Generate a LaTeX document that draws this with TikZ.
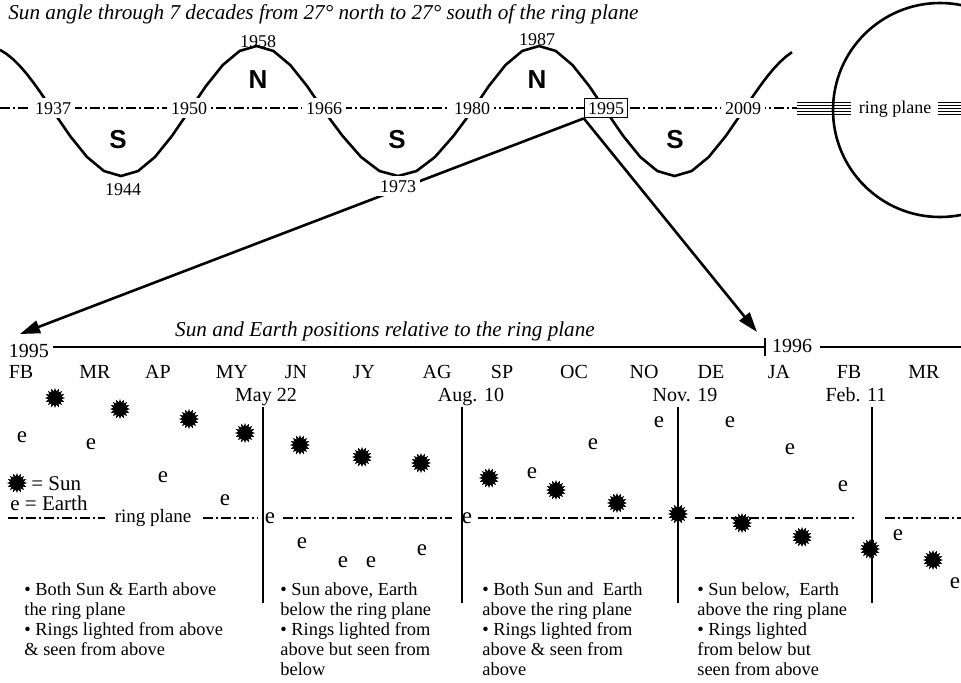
\documentclass[tikz,border=0pt]{standalone}
\usepackage{fontspec}
\setmainfont{Liberation Serif}
\newfontfamily\capsfont{Liberation Sans}
\usetikzlibrary{arrows.meta,shapes.geometric}

\begin{document}
\begin{tikzpicture}[x=0.5pt,y=-0.5pt,
		thickline/.style={line width=1.3pt},
		ringline/.style={line width=1pt, dash pattern=on 5pt off 1.5pt on 1pt off 1.5pt},
		yearlab/.style={anchor=base, font=\fontsize{9}{10}\selectfont, fill=white, inner sep=1.8pt},
		hemi/.style={font=\capsfont\bfseries\fontsize{13}{13}\selectfont},
		month/.style={anchor=base, font=\fontsize{10}{11}\selectfont, inner sep=0pt},
		sunmark/.style={star, star points=16, star point ratio=1.5, fill=black, inner sep=0pt, minimum size=10pt},
		earthmark/.style={font=\fontsize{11.5}{11.5}\selectfont, inner sep=0pt},
		notes/.style={anchor=north west, align=left, inner sep=0pt, font=\fontsize{9.2}{10}\selectfont},
		bigarrow/.style={line width=1.3pt, -{Triangle[length=10pt,width=6.5pt]}}]
		\useasboundingbox (0,0) rectangle (961,682);

		% --- TOP: seven decades of sun angle ---
		\node[anchor=base west, inner sep=0pt, font=\itshape\fontsize{10.6}{12}\selectfont] (title) at (8,19)
			{Sun angle through 7 decades from 27° north to 27° south of the ring plane};

		\begin{scope}
			\clip (0,0) rectangle (961,682);
			\draw[thickline] (940,110) circle [radius=107];
		\end{scope}

		\draw[ringline] (0,108) -- (797,108);
		\foreach \ly in {102,105,108,111,114} {
			\draw[line width=0.4pt] (797,\ly) -- (851,\ly);
			\draw[line width=0.4pt] (938,\ly) -- (961,\ly);
		}

		% half waves: start, end, up/down, part drawn
		\foreach \a/\b/\s/\from/\to in {-83/53/-1/0.61/1, 53/189/1/0/1, 189/324/-1/0/1,
				324/472/1/0/1, 472/606/-1/0/1, 606/743/1/0/1, 743/879/-1/0/0.36}
			\draw[thickline] plot[domain=\from:\to, samples=9] ({\a+(\b-\a)*\x}, {111+\s*65*sin(180*\x)});

		\node[hemi] (s1) at (118,140) {S};
		\node[hemi] (n1) at (258,80) {N};
		\node[hemi] (s2) at (397,140) {S};
		\node[hemi] (n2) at (537,80) {N};
		\node[hemi] (s3) at (675,140) {S};

		\node[yearlab] (y1937) at (53,114) {1937};
		\node[yearlab] (y1950) at (189,114) {1950};
		\node[yearlab] (y1966) at (324,114) {1966};
		\node[yearlab] (y1980) at (472,114) {1980};
		\node[yearlab, draw, line width=0.6pt] (y1995) at (606,114) {1995};
		\node[yearlab] (y2009) at (743,114) {2009};
		\node[yearlab] (rp) at (895,113) {ring plane};
		\node[yearlab, fill=none] (y1958) at (258,47) {1958};
		\node[yearlab, fill=none] (y1987) at (537,45) {1987};
		\node[yearlab] (y1944) at (123,195) {1944};

		\coordinate (tipA) at (20,334);
		\coordinate (tipB) at (757,332);
		\draw[bigarrow] (y1995.south west) -- (tipA);
		\draw[bigarrow] (y1995.south west) -- (tipB);
		\node[yearlab] (y1973) at (398,192) {1973};

		% --- BOTTOM: sun and earth, 1995--1996 ---
		\node[anchor=base, inner sep=0pt, font=\itshape\fontsize{10.6}{12}\selectfont] (sub) at (385,336)
			{Sun and Earth positions relative to the ring plane};
		\node[month] (t1995) at (29,357) {1995};
		\node[month] (t1996) at (792,352) {1996};
		\draw[thickline] (53,347) -- (765,347);
		\draw[thickline] (765,338) -- (765,356);
		\draw[thickline] (820,347) -- (961,347);

		\foreach \m/\x in {FB/21, MR/95, AP/158, MY/232, JN/296, JY/364, AG/437,
				SP/502, OC/574, NO/644, DE/711, JA/779, FB/849, MR/924}
			\node[month] (m\x) at (\x,378) {\m};
		\node[month] (d1) at (266,401) {May 22};
		\node[month] (d2) at (471,401) {Aug. 10};
		\node[month] (d3) at (685,401) {Nov. 19};
		\node[month] (d4) at (856,401) {Feb. 11};

		\foreach \x in {263,462,678,872}
			\draw[thickline] (\x,407) -- (\x,603);

		\foreach \a/\b in {8/105, 203/258, 283/452, 478/662, 695/857, 885/961}
			\draw[ringline] (\a,518) -- (\b,518);
		\node[month, font=\fontsize{9.5}{10}\selectfont] (rp2) at (153,522) {ring plane};

		\foreach \x/\y [count=\i] in {55/398, 120/409, 189/419, 245/433, 300/445, 362/457, 421/463,
				489/478, 556/490, 617/503, 678/514, 742/523, 802/537, 870/549, 933/560}
			\node[sunmark] (sun\i) at (\x,\y) {};
		\foreach \x/\y [count=\i] in {22/437, 91/444, 163/477, 225/500, 270/518, 302/543, 343/562,
				371/562, 422/550, 467/518, 532/473, 593/444, 659/422, 730/422, 790/449,
				843/486, 898/535, 955/583}
			\node[earthmark] (e\i) at (\x,\y) {e};

		% legend
		\node[sunmark] (keysun) at (17,483) {};
		\node[anchor=base west, inner sep=0pt, font=\fontsize{10.5}{11}\selectfont] (keysuntxt) at (31,490) {= Sun};
		\node[anchor=base west, inner sep=0pt, font=\fontsize{10.5}{11}\selectfont] (keyearth) at (10,510) {e = Earth};

		\node[notes] (note1) at (24,582) {• Both Sun \& Earth above\\the ring plane\\• Rings lighted from above\\\& seen from above};
		\node[notes] (note2) at (280,582) {• Sun above, Earth\\below the ring plane\\• Rings lighted from\\above but seen from\\below};
		\node[notes] (note3) at (482,582) {• Both Sun and\ \ Earth\\above the ring plane\\• Rings lighted from\\above \& seen from\\above};
		\node[notes] (note4) at (697,582) {• Sun below,\ \ Earth\\above the ring plane\\• Rings lighted\\from below but\\seen from above};
	\end{tikzpicture}
\end{document}
